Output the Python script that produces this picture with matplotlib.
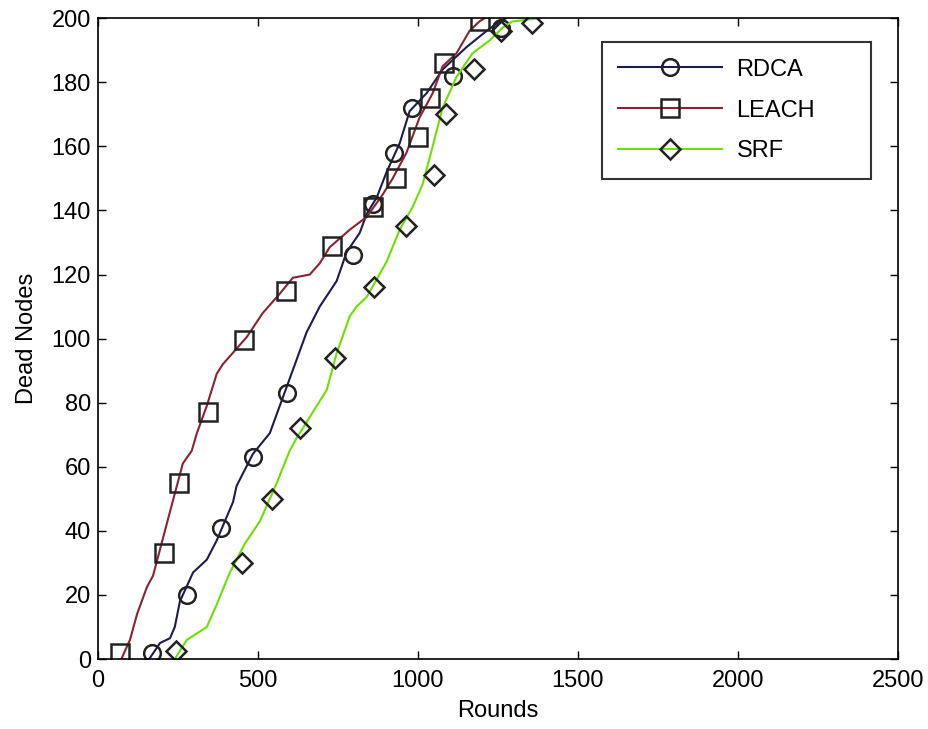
import matplotlib
matplotlib.use("Agg")
import matplotlib.pyplot as plt
from matplotlib.lines import Line2D

plt.rcParams['font.family'] = ['Liberation Sans', 'DejaVu Sans']

# Curves (rounds, dead nodes)
rdca_x = [160, 194, 225, 240, 256, 297, 340, 371, 422, 433, 484, 537, 590, 652, 693, 746,
          777, 818, 840, 871, 902, 943, 974, 1027, 1077, 1152, 1214, 1255, 1275]
rdca_y = [0, 5, 6.5, 10, 18, 27, 31, 37, 49, 54, 64, 70.5, 85, 102, 110, 118,
          127, 133, 139, 144, 152, 161, 171, 176.6, 184, 191, 196, 199, 200]

leach_x = [73, 100, 122, 153, 172, 225, 265, 293, 309, 340, 371, 390, 421, 465, 515, 568,
           609, 662, 693, 724, 787, 840, 890, 921, 964, 1005, 1046, 1077, 1120, 1161,
           1192, 1208]
leach_y = [0, 6, 14, 22.5, 26, 46, 61, 65, 70.5, 79, 89, 92, 95.5, 100.5, 108, 114,
           119, 120, 123.5, 128.5, 134, 138, 145, 150, 158, 169, 176.6, 185, 189, 196,
           199, 200]

srf_x = [240, 278, 340, 371, 412, 459, 506, 559, 599, 621, 671, 715, 746, 787, 808, 840,
         902, 943, 983, 1014, 1046, 1077, 1120, 1170, 1223, 1264, 1295, 1380]
srf_y = [0, 6, 10, 17, 27, 36, 43, 55, 65, 69, 77, 84, 95.5, 107, 110, 113,
         124, 134, 141, 148, 160, 172, 181.6, 189, 193, 197, 199, 200]

# Marker positions
rdca_mx = [169, 278, 384, 484, 590, 796, 861, 924, 980, 1111, 1258]
rdca_my = [2, 20, 41, 63, 83, 126, 142, 158, 172, 182, 197]
leach_mx = [69, 206, 253, 343, 456, 587, 730, 858, 930, 999, 1039, 1080, 1195]
leach_my = [2, 33, 55, 77, 99.5, 115, 129, 141, 150, 163, 175, 186, 199]
srf_mx = [243, 450, 543, 631, 740, 864, 964, 1049, 1089, 1174, 1261, 1355]
srf_my = [2.5, 30, 50, 72, 94, 116, 135, 151, 170, 184, 196, 198.5]

names = ['RDCA', 'LEACH', 'SRF']
colors = ['#1c1c4e', '#8a2232', '#6ee000']
markers = ['o', 's', 'D']
msizes = [12, 13, 10]

fig = plt.figure(figsize=(9.29, 7.29), dpi=100)
ax = fig.add_axes([0.1055, 0.096, 0.861, 0.879])

curves = [(rdca_x, rdca_y, rdca_mx, rdca_my),
          (leach_x, leach_y, leach_mx, leach_my),
          (srf_x, srf_y, srf_mx, srf_my)]
handles = []
for (x, y, mx, my), c, m, s, n in zip(curves, colors, markers, msizes, names):
    ax.plot(x, y, color=c, lw=1.5)
    ax.plot(mx, my, ls='none', marker=m, ms=s, mfc='none', mec='#222222', mew=1.8)
    handles.append(Line2D([], [], color=c, lw=1.5, marker=m, ms=s, mfc='none',
                          mec='#222222', mew=1.8, label=n))

ax.set_xlim(0, 2500)
ax.set_ylim(0, 200)
ax.set_xticks(range(0, 2501, 500))
ax.set_yticks(range(0, 201, 20))
ax.tick_params(direction='in', top=True, right=True, labelsize=17, length=6, width=1)
ax.tick_params(axis='x', pad=8)
ax.tick_params(axis='y', pad=5)
for sp in ax.spines.values():
    sp.set_linewidth(1.2)
ax.set_xlabel('Rounds', fontsize=17, labelpad=6)
ax.set_ylabel('Dead Nodes', fontsize=17, labelpad=10)

# legend box stretched to the right like the original
leg = ax.legend(handles=handles, loc='upper left', bbox_to_anchor=(0.63, 0.75, 0.336, 0.2126),
                mode='expand', borderaxespad=0, fontsize=17, frameon=True, fancybox=False,
                edgecolor='black', handlelength=4.4, borderpad=0.7, labelspacing=0.8,
                handletextpad=0.6)
leg.get_frame().set_linewidth(1.5)

fig.savefig('out.png', dpi=100)
